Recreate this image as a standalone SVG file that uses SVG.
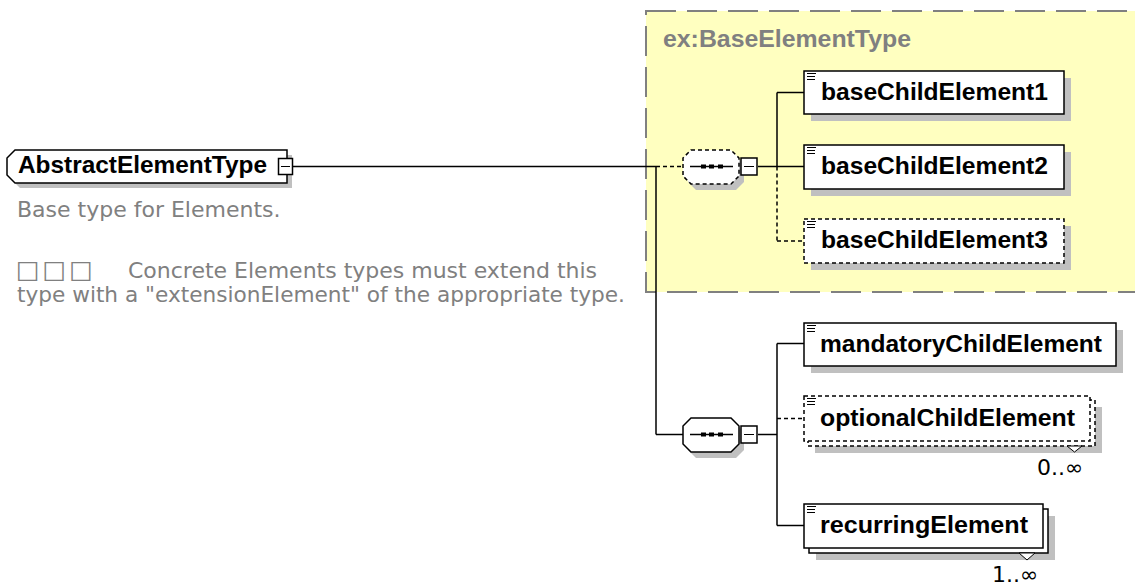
<svg xmlns="http://www.w3.org/2000/svg" width="1135" height="585" viewBox="0 0 1135 585">
<style>
.bg{fill:#fff}
.typebox{fill:#ffffc0;stroke:#808080;stroke-width:2;stroke-dasharray:30 11}
.typelbl{font-family:"Liberation Sans",Arial,sans-serif;font-weight:bold;font-size:24px;fill:#808080}
.box{fill:#fff;stroke:#000;stroke-width:1.5}
.dash{stroke-dasharray:4 3}
.shadow{fill:#c0c0c0;stroke:none}
.lbl{font-family:"Liberation Sans",Arial,sans-serif;font-weight:bold;font-size:24px;fill:#000}
.conn{stroke:#000;stroke-width:1.5;fill:none}
.icon{stroke:#000;stroke-width:1;fill:none}
.desc{font-family:"DejaVu Sans",sans-serif;font-size:22px;fill:#808080}
.sq{font-size:25px;letter-spacing:3px}
.occ{font-family:"DejaVu Sans",sans-serif;font-size:22px;fill:#000}
.dot{fill:#000}
</style>
<rect class="bg" x="0" y="0" width="1135" height="585"/>

<g id="BaseElementType">
  <rect class="typebox" x="646" y="11" width="500" height="281"/>
  <text class="typelbl" x="663" y="47" textLength="248" lengthAdjust="spacingAndGlyphs">ex:BaseElementType</text>
</g>

<g id="connectors">
  <line class="conn" x1="292" y1="166.5" x2="656" y2="166.5"/>
  <line class="conn" x1="656" y1="166.5" x2="656" y2="434.5"/>
  <line class="conn dash" x1="656" y1="166.5" x2="683" y2="166.5"/>
  <line class="conn" x1="656" y1="434.5" x2="683" y2="434.5"/>
  <line class="conn" x1="758" y1="166.5" x2="777" y2="166.5"/>
  <line class="conn" x1="777" y1="92.5" x2="777" y2="166.5"/>
  <line class="conn dash" x1="777" y1="166.5" x2="777" y2="241"/>
  <line class="conn" x1="777" y1="92.5" x2="804" y2="92.5"/>
  <line class="conn" x1="777" y1="166.5" x2="804" y2="166.5"/>
  <line class="conn dash" x1="777" y1="241" x2="804" y2="241"/>
  <line class="conn" x1="758" y1="434.5" x2="777" y2="434.5"/>
  <line class="conn" x1="777" y1="343.5" x2="777" y2="525.5"/>
  <line class="conn" x1="777" y1="343.5" x2="804" y2="343.5"/>
  <line class="conn dash" x1="777" y1="418.5" x2="804" y2="418.5"/>
  <line class="conn" x1="777" y1="525.5" x2="804" y2="525.5"/>
</g>

<g id="AbstractElementType">
  <polygon class="shadow" points="20,155 292,155 292,188 20,188 12,180 12,163"/>
  <polygon class="box" points="15,150 287,150 287,183 15,183 7,175 7,158"/>
  <text class="lbl" x="18" y="173" textLength="249" lengthAdjust="spacingAndGlyphs">AbstractElementType</text>
  <rect class="box" x="278.5" y="158.5" width="14" height="16"/>
  <line class="icon" x1="281" y1="166.5" x2="290" y2="166.5"/>
</g>

<g id="description">
  <text class="desc" x="17" y="217">Base type for Elements.</text>
  <text class="desc" y="278"><tspan class="sq" x="16">□□□</tspan><tspan x="128">Concrete Elements types must extend this</tspan></text>
  <text class="desc" x="17" y="302" textLength="608" lengthAdjust="spacingAndGlyphs">type with a "extensionElement" of the appropriate type.</text>
</g>

<g id="sequence1">
  <polygon class="shadow" points="696,156 736,156 744,164 744,182 736,190 696,190 688,182 688,164"/>
  <polygon class="box dash" points="691,150 731,150 739,158 739,176 731,184 691,184 683,176 683,158"/>
  <line class="conn" x1="690" y1="166.5" x2="733" y2="166.5"/>
  <rect class="dot" x="701" y="164.5" width="5" height="4"/>
  <rect class="dot" x="709" y="164.5" width="5" height="4"/>
  <rect class="dot" x="718" y="164.5" width="5" height="4"/>
  <rect class="box" x="741" y="158" width="16" height="17"/>
  <line class="icon" x1="744" y1="166.5" x2="754" y2="166.5"/>
</g>

<g id="sequence2">
  <polygon class="shadow" points="696,424 736,424 744,432 744,450 736,458 696,458 688,450 688,432"/>
  <polygon class="box" points="691,418 731,418 739,426 739,444 731,452 691,452 683,444 683,426"/>
  <line class="conn" x1="690" y1="434.5" x2="733" y2="434.5"/>
  <rect class="dot" x="701" y="432.5" width="5" height="4"/>
  <rect class="dot" x="709" y="432.5" width="5" height="4"/>
  <rect class="dot" x="718" y="432.5" width="5" height="4"/>
  <rect class="box" x="741" y="426" width="16" height="17"/>
  <line class="icon" x1="744" y1="434.5" x2="754" y2="434.5"/>
</g>

<g id="baseChildElement1">
  <rect class="shadow" x="811" y="78" width="260" height="43"/>
  <rect class="box" x="804" y="71" width="260" height="43"/>
  <path class="icon" d="M807 73.5h9M807 76.5h8M807 79.5h8"/>
  <text class="lbl" x="821" y="100" textLength="227" lengthAdjust="spacingAndGlyphs">baseChildElement1</text>
</g>

<g id="baseChildElement2">
  <rect class="shadow" x="811" y="152" width="260" height="44"/>
  <rect class="box" x="804" y="145" width="260" height="44"/>
  <path class="icon" d="M807 147.5h9M807 150.5h8M807 153.5h8"/>
  <text class="lbl" x="821" y="174" textLength="227" lengthAdjust="spacingAndGlyphs">baseChildElement2</text>
</g>

<g id="baseChildElement3">
  <rect class="shadow" x="811" y="226" width="260" height="44"/>
  <rect class="box dash" x="804" y="219" width="260" height="44"/>
  <path class="icon" d="M807 221.5h9M807 224.5h8M807 227.5h8"/>
  <text class="lbl" x="821" y="248" textLength="227" lengthAdjust="spacingAndGlyphs">baseChildElement3</text>
</g>

<g id="mandatoryChildElement">
  <rect class="shadow" x="811" y="330" width="312" height="43"/>
  <rect class="box" x="804" y="323" width="312" height="43"/>
  <path class="icon" d="M807 325.5h9M807 328.5h8M807 331.5h8"/>
  <text class="lbl" x="820" y="352" textLength="282" lengthAdjust="spacingAndGlyphs">mandatoryChildElement</text>
</g>

<g id="optionalChildElement">
  <rect class="shadow" x="815" y="407" width="287" height="46"/>
  <rect class="box dash" x="808" y="400" width="287" height="46"/>
  <rect class="box dash" x="804" y="396" width="286" height="45"/>
  <path class="icon" d="M807 398.5h9M807 401.5h8M807 404.5h8"/>
  <text class="lbl" x="820" y="426" textLength="255" lengthAdjust="spacingAndGlyphs">optionalChildElement</text>
  <polygon class="box" points="1067,446 1082,446 1074.5,452" style="stroke-width:1"/>
  <text class="occ" x="1037" y="475">0..∞</text>
</g>

<g id="recurringElement">
  <rect class="shadow" x="816" y="516" width="239" height="44"/>
  <rect class="box" x="809" y="509" width="239" height="44"/>
  <rect class="box" x="804" y="504" width="239" height="44"/>
  <path class="icon" d="M807 506.5h9M807 509.5h8M807 512.5h8"/>
  <text class="lbl" x="820" y="533" textLength="208" lengthAdjust="spacingAndGlyphs">recurringElement</text>
  <polygon class="box" points="1019,553 1035,553 1027,560" style="stroke-width:1"/>
  <text class="occ" x="992" y="582">1..∞</text>
</g>
</svg>
